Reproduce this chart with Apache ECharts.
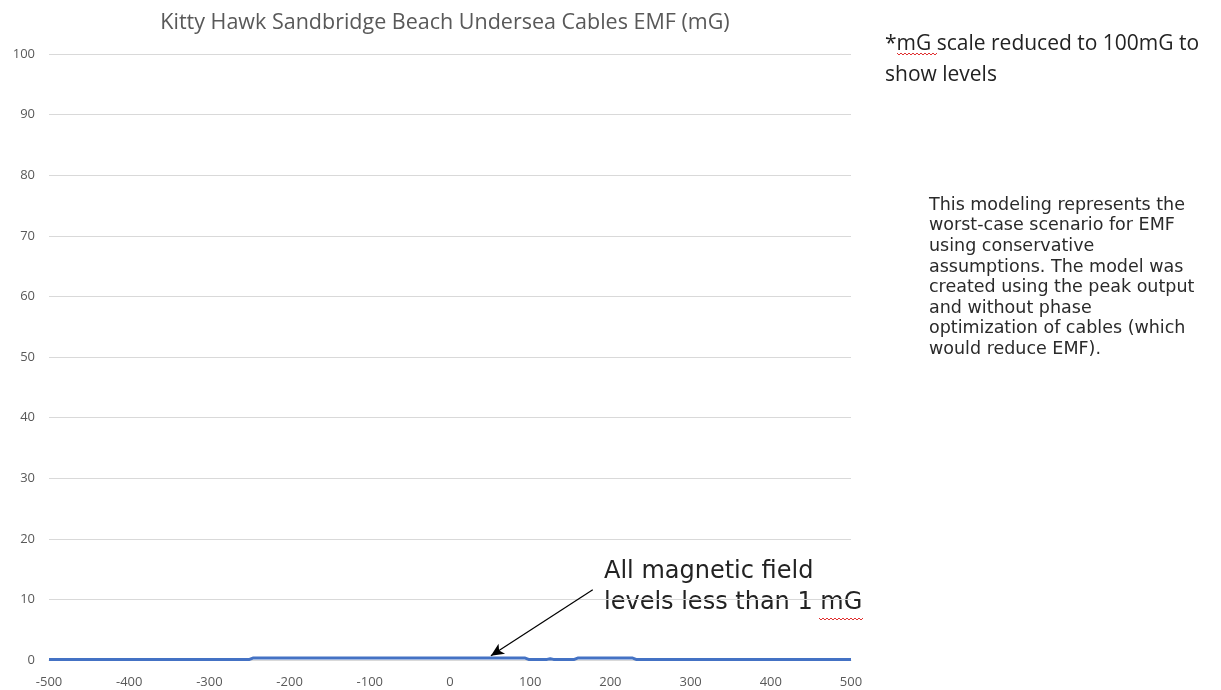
<!DOCTYPE html>
<html>
<head>
<meta charset="utf-8">
<script src="https://cdn.jsdelivr.net/npm/echarts@6/dist/echarts.min.js"></script>
<style>
  html, body { margin: 0; padding: 0; background: #fff; }
  #chart { width: 1221px; height: 690px; }
</style>
</head>
<body>
<div id="chart"></div>
<script>
// Distance from cable centreline (ft) and modelled magnetic field (mG)
const distance = [-500, -250, -245, 93, 98, 121, 125, 129, 155, 160, 227, 232, 500];
const emf      = [0.1, 0.1, 0.35, 0.35, 0.1, 0.1, 0.2, 0.1, 0.1, 0.35, 0.35, 0.1, 0.1];

const yTicks = [0, 10, 20, 30, 40, 50, 60, 70, 80, 90, 100];
const xTicks = [-500, -400, -300, -200, -100, 0, 100, 200, 300, 400, 500];

const titleText = 'Kitty Hawk Sandbridge Beach Undersea Cables EMF (mG)';
const scaleNote = ['*mG scale reduced to 100mG to', 'show levels'];
const modelNote = [
  'This modeling represents the',
  'worst-case scenario for EMF',
  'using conservative',
  'assumptions. The model was',
  'created using the peak output',
  'and without phase',
  'optimization of cables (which',
  'would reduce EMF).'
];
const calloutText = ['All magnetic field', 'levels less than 1 mG'];
// callout arrow, in data coordinates: [distance, mG]
const arrowFrom = [178, 11.6];
const arrowTo = [51, 0.7];

const points = distance.map((d, i) => [d, emf[i]]);

// red wavy underline (spell-check style) as a zigzag polyline
function squiggle(x0, x1, y) {
  const pts = [];
  let up = true;
  for (let x = x0; x <= x1; x += 2) {
    pts.push([x, up ? y : y + 2]);
    up = !up;
  }
  return pts;
}

const chart = echarts.init(document.getElementById('chart'));
chart.setOption({
  animation: false,
  backgroundColor: '#ffffff',
  title: {
    text: titleText,
    left: 440,
    textAlign: 'center',
    top: 7,
    textStyle: { fontFamily: 'Open Sans', fontSize: 21.5, fontWeight: 'normal', color: '#595959' }
  },
  grid: { left: 49, right: 370, top: 54, bottom: 30, containLabel: false },
  xAxis: {
    type: 'value',
    min: xTicks[0],
    max: xTicks[xTicks.length - 1],
    interval: 100,
    axisLine: { show: true, lineStyle: { color: '#d9d9d9' } },
    axisTick: { show: false },
    splitLine: { show: false },
    axisLabel: { color: '#595959', fontSize: 13, fontFamily: 'Open Sans', margin: 16 }
  },
  yAxis: {
    type: 'value',
    min: yTicks[0],
    max: yTicks[yTicks.length - 1],
    interval: 10,
    axisLine: { show: false },
    axisTick: { show: false },
    splitLine: { lineStyle: { color: '#d9d9d9', width: 1 } },
    axisLabel: { color: '#595959', fontSize: 13, fontFamily: 'Open Sans', margin: 14 }
  },
  series: [{
    type: 'line',
    data: points,
    showSymbol: false,
    lineStyle: { color: '#4472c4', width: 3 },
    z: 3,
    markLine: {
      silent: true,
      symbol: ['none', 'arrow'],
      symbolSize: [9, 13],
      label: { show: false },
      lineStyle: { color: '#000', width: 1.2, type: 'solid' },
      data: [[{ coord: arrowFrom }, { coord: arrowTo }]]
    }
  }],
  graphic: [
    {
      type: 'text', left: 885, top: 29,
      style: { text: scaleNote.join('\n'), fontFamily: 'Open Sans', fontSize: 21, lineHeight: 31, fill: '#222' }
    },
    {
      type: 'polyline', shape: { points: squiggle(897, 937, 53) },
      style: { stroke: '#e03030', lineWidth: 1, fill: null }
    },
    {
      type: 'text', left: 929, top: 195,
      style: { text: modelNote.join('\n'), fontFamily: 'DejaVu Sans', fontSize: 17.5, lineHeight: 20.6, fill: '#2a2a2a' }
    },
    {
      type: 'text', left: 604, top: 556,
      style: { text: calloutText.join('\n'), fontFamily: 'DejaVu Sans', fontSize: 24, lineHeight: 31, fill: '#222' }
    },
    {
      type: 'polyline', shape: { points: squiggle(819, 863, 618) },
      style: { stroke: '#e03030', lineWidth: 1, fill: null }
    }
  ]
});
</script>
</body>
</html>
